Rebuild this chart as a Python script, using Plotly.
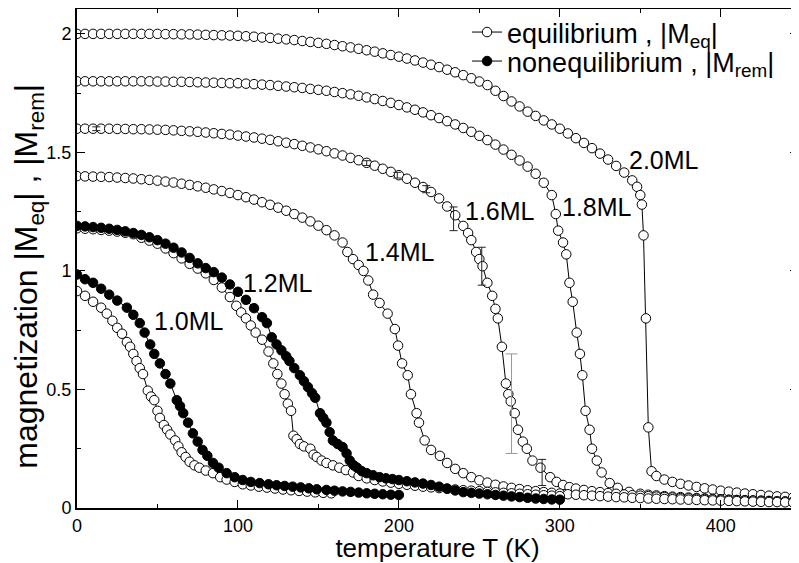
import plotly.graph_objects as go

# ---------------- data ----------------
# equilibrium (open circles)
T_eq_20 = [0,5,10,15,20,25,30,35,40,45,50,55,60,65,70,75,80,85,90,95,
           100,105,110,115,120,125,130,135,140,145,150,155,160,165,170,175,180,185,190,195,
           200,205,210,215,220,225,230,235,240,245,250,255,260,265,270,275,280,285,290,295,
           300,305,310,315,320,325,330,335,340,345,348,350,351,352,353.5,355,357,360,365,370,
           375,380,385,390,395,400,405,410,415,420,425,430,435,440,445]
M_eq_20 = [2.000,2.000,2.000,2.000,2.000,2.000,2.000,2.000,2.000,2.000,2.000,1.999,1.999,1.998,1.998,1.997,1.996,1.995,1.994,1.993,
           1.992,1.990,1.988,1.985,1.983,1.980,1.977,1.974,1.970,1.966,1.962,1.958,1.953,1.948,1.943,1.937,1.931,1.925,1.918,1.911,
           1.904,1.896,1.888,1.879,1.870,1.860,1.849,1.838,1.826,1.813,1.799,1.784,1.760,1.738,1.715,1.694,1.672,1.654,1.635,1.618,
           1.600,1.580,1.560,1.540,1.518,1.495,1.470,1.443,1.415,1.382,1.355,1.320,1.280,1.150,0.800,0.340,0.155,0.135,0.120,0.110,
           0.102,0.095,0.089,0.083,0.078,0.073,0.069,0.065,0.061,0.058,0.055,0.052,0.049,0.047,0.045]

T_eq_18 = [0,5,10,15,20,25,30,35,40,45,50,55,60,65,70,75,80,85,90,95,
           100,105,110,115,120,125,130,135,140,145,150,155,160,165,170,175,180,185,190,195,
           200,205,210,215,220,225,230,235,240,245,250,255,260,265,270,275,280,285,290,295,
           297.5,299,302,304,306,308,310.5,312.5,314,316,318.5,320,323,326,331,336,343,350,355,360,
           365,370,375,380,385,390,395,400,405,410,415,420,425,430,435,440,445]
M_eq_18 = [1.800,1.800,1.800,1.800,1.800,1.800,1.800,1.800,1.800,1.800,1.799,1.799,1.798,1.798,1.797,1.796,1.795,1.794,1.793,1.792,
           1.792,1.790,1.788,1.786,1.784,1.781,1.778,1.775,1.772,1.768,1.764,1.760,1.755,1.750,1.745,1.739,1.732,1.725,1.717,1.709,
           1.700,1.690,1.680,1.669,1.657,1.645,1.632,1.618,1.603,1.587,1.570,1.552,1.533,1.512,1.490,1.466,1.440,1.410,1.372,1.320,
           1.240,1.170,1.120,1.070,0.950,0.870,0.740,0.650,0.560,0.410,0.330,0.250,0.200,0.150,0.105,0.085,0.068,0.060,0.056,0.053,
           0.050,0.048,0.046,0.044,0.042,0.040,0.038,0.037,0.035,0.034,0.033,0.032,0.031,0.030,0.029,0.028,0.027]

T_eq_16 = [0,5,10,15,20,25,30,35,40,45,50,55,60,65,70,75,80,85,90,95,
           100,105,110,115,120,125,130,135,140,145,150,155,160,165,170,175,180,185,190,195,
           200,205,210,215,220,225,230,235,240,243,245,248,250,252,255,258,260,261.5,264,266.5,
           268,269.5,272,274,277,279.5,283,288,294,298,302,306,310,315,320,325,330,335,340,345,
           350,355,360,365,370,375,380,385,390,395,400,405,410,415,420,425,430,435,440,445]
M_eq_16 = [1.600,1.600,1.600,1.600,1.600,1.599,1.599,1.598,1.598,1.597,1.596,1.595,1.593,1.591,1.589,1.587,1.584,1.581,1.578,1.575,
           1.571,1.567,1.563,1.558,1.553,1.547,1.541,1.535,1.528,1.521,1.513,1.505,1.496,1.487,1.477,1.467,1.456,1.444,1.431,1.418,
           1.404,1.389,1.372,1.354,1.333,1.306,1.272,1.235,1.190,1.160,1.130,1.080,1.050,1.020,0.950,0.895,0.840,0.800,0.680,0.525,
           0.480,0.450,0.400,0.330,0.280,0.250,0.200,0.170,0.130,0.110,0.097,0.088,0.082,0.076,0.071,0.067,0.063,0.060,0.057,0.054,
           0.052,0.050,0.048,0.046,0.044,0.042,0.041,0.039,0.038,0.037,0.035,0.034,0.033,0.032,0.031,0.030,0.029,0.028,0.027,0.026]

T_eq_14 = [0,5,10,15,20,25,30,35,40,45,50,55,60,65,70,75,80,85,90,95,
           100,105,110,115,120,125,130,135,140,145,150,155,160,165,168,171.5,175,178,181,184,
           188,193,197.5,199.5,202,205.5,207.5,211,212.5,216,220,225.5,230,235,240,245,250,255,260,265,
           270,275,280,285,290,295,300,305,310,315,320,325,330,335,340,345,350,355,360,365,
           370,375,380,385,390,395,400,405,410,415,420,425,430,435,440,445]
M_eq_14 = [1.400,1.399,1.398,1.397,1.396,1.394,1.392,1.390,1.387,1.384,1.381,1.377,1.373,1.368,1.363,1.357,1.351,1.344,1.337,1.329,
           1.320,1.311,1.301,1.290,1.279,1.267,1.254,1.240,1.225,1.209,1.191,1.172,1.150,1.120,1.080,1.050,1.025,1.000,0.960,0.900,
           0.865,0.820,0.755,0.685,0.610,0.560,0.480,0.400,0.360,0.285,0.245,0.220,0.190,0.165,0.147,0.130,0.117,0.107,0.098,0.091,
           0.085,0.080,0.075,0.071,0.067,0.064,0.061,0.058,0.056,0.054,0.052,0.050,0.048,0.046,0.045,0.043,0.042,0.040,0.039,0.038,
           0.037,0.036,0.035,0.034,0.033,0.032,0.031,0.030,0.029,0.028,0.027,0.026,0.025,0.025,0.024,0.023]

T_eq_12 = [0,5,10,15,20,25,30,35,40,45,50,55,60,65,70,75,80,85,90,95,
           99,102,105,108,111,115,119,122,124.5,127,129,131,133,134.5,136.5,138.5,141,145,147,149,
           152,155,159,163,167,171.5,175,180,185,190,195,200,205,210,215,220,225,230,235,240,
           245,250,255,260,265,270,275,280,285,290,295,300]
M_eq_12 = [1.180,1.178,1.176,1.173,1.170,1.166,1.161,1.155,1.140,1.128,1.115,1.095,1.075,1.053,1.030,1.010,0.990,0.962,0.930,0.890,
           0.853,0.825,0.800,0.770,0.740,0.710,0.660,0.610,0.565,0.525,0.480,0.440,0.410,0.305,0.290,0.270,0.260,0.250,0.225,0.215,
           0.200,0.190,0.180,0.170,0.160,0.150,0.135,0.125,0.118,0.112,0.107,0.102,0.098,0.094,0.090,0.087,0.084,0.081,0.078,0.075,
           0.073,0.071,0.068,0.066,0.064,0.062,0.060,0.058,0.056,0.054,0.052,0.050]

T_eq_10 = [0,5,10,15,18.5,22,25,28,31,33,35,37,39,41,44,46,48,50,51.5,54,
           56,58,61,63,65,67.5,70,73,76,80,84.5,89,93,98,103,108,113,118,123,128,
           133,138,143,148,153,158]
M_eq_10 = [0.915,0.895,0.870,0.845,0.820,0.790,0.760,0.735,0.700,0.680,0.650,0.620,0.590,0.565,0.495,0.470,0.455,0.410,0.380,0.350,
           0.330,0.310,0.285,0.260,0.235,0.215,0.195,0.180,0.170,0.158,0.147,0.130,0.120,0.110,0.100,0.095,0.090,0.086,0.082,0.078,
           0.075,0.072,0.069,0.066,0.064,0.062]

# nonequilibrium (filled circles)
T_rem_12 = [0,5,10,15,20,25,30,35,40,45,50,55,60,65,70,75,80,85,90,95,
            100,105,110,115,118,121,124,127,130,132,135,138.5,141,143.5,146,148,151,153,155,157,
            159,162,165,167.5,169.5,172,174,177,180,184,188,192,196,200,205,210,215,220,225,230,
            235,240,245,250,255,260,265,270,275,280,285,290,295,300]
M_rem_12 = [1.190,1.188,1.185,1.182,1.178,1.173,1.167,1.160,1.152,1.142,1.130,1.115,1.098,1.078,1.055,1.032,1.012,0.995,0.972,0.943,
            0.912,0.878,0.843,0.805,0.780,0.720,0.690,0.665,0.640,0.620,0.590,0.560,0.535,0.510,0.485,0.465,0.400,0.380,0.360,0.320,
            0.285,0.270,0.257,0.230,0.200,0.180,0.170,0.155,0.147,0.138,0.130,0.125,0.122,0.118,0.113,0.108,0.103,0.097,0.090,0.082,
            0.074,0.067,0.064,0.061,0.058,0.055,0.052,0.049,0.046,0.043,0.040,0.038,0.036,0.035]

T_rem_10 = [0,5,10,15,20,25,31,35,39,42,45.5,48,51.5,55,58,62,64,66,69,72,
            75,78,81,84.5,88,93,98,103,108,113.5,119,124,129,134,139,144,149,155,160,165,
            170,175,180,185,190,195,200]
M_rem_10 = [0.985,0.965,0.950,0.925,0.900,0.875,0.845,0.815,0.780,0.740,0.690,0.650,0.610,0.565,0.525,0.455,0.430,0.400,0.360,0.315,
            0.280,0.245,0.220,0.190,0.170,0.147,0.130,0.118,0.110,0.105,0.100,0.096,0.093,0.090,0.087,0.083,0.079,0.076,0.073,0.070,
            0.068,0.065,0.062,0.060,0.058,0.056,0.055]

# error bars on the 1.6ML curve
T_err_dark = [12, 180, 199, 217, 234, 251.5, 289]
M_err_dark = [1.600, 1.455, 1.404, 1.345, 1.220, 1.020, 0.150]
E_err_dark = [0.008, 0.010, 0.012, 0.015, 0.050, 0.080, 0.055]
T_err_gray = [270]
M_err_gray = [0.440]
E_err_gray = [0.210]

labels = ["2.0ML", "1.8ML", "1.6ML", "1.4ML", "1.2ML", "1.0ML"]
label_T = [364.5, 323, 263, 201, 125, 69.5]
label_M = [1.47, 1.27, 1.255, 1.08, 0.95, 0.79]

FONT = "Liberation Sans, Arial, Helvetica, sans-serif"

fig = go.Figure()

eq_series = [(T_eq_20, M_eq_20), (T_eq_18, M_eq_18), (T_eq_16, M_eq_16),
             (T_eq_14, M_eq_14), (T_eq_12, M_eq_12), (T_eq_10, M_eq_10)]
for i, (t, m) in enumerate(eq_series):
    fig.add_trace(go.Scatter(
        x=t, y=m, mode="lines+markers",
        line=dict(color="black", width=1),
        marker=dict(symbol="circle", size=9.5, color="white",
                    line=dict(color="black", width=1)),
        name="equilibrium , |M<sub>eq</sub>|",
        legend="legend", legendgroup="eq", showlegend=(i == 0)))

fig.add_trace(go.Scatter(
    x=T_err_dark, y=M_err_dark, mode="markers",
    marker=dict(size=1, color="rgba(0,0,0,0)"),
    error_y=dict(type="data", array=E_err_dark, color="#222222", thickness=1, width=4),
    showlegend=False, hoverinfo="skip"))
fig.add_trace(go.Scatter(
    x=T_err_gray, y=M_err_gray, mode="markers",
    marker=dict(size=1, color="rgba(0,0,0,0)"),
    error_y=dict(type="data", array=E_err_gray, color="#999999", thickness=1, width=6),
    showlegend=False, hoverinfo="skip"))

rem_series = [(T_rem_12, M_rem_12), (T_rem_10, M_rem_10)]
for i, (t, m) in enumerate(rem_series):
    fig.add_trace(go.Scatter(
        x=t, y=m, mode="lines+markers",
        line=dict(color="black", width=1),
        marker=dict(symbol="circle", size=9.5, color="black",
                    line=dict(color="black", width=1)),
        name="nonequilibrium , |M<sub>rem</sub>|",
        legend="legend2", legendgroup="rem", showlegend=(i == 0)))

for txt, tx, my in zip(labels, label_T, label_M):
    fig.add_annotation(x=tx, y=my, text=txt, showarrow=False,
                       font=dict(size=25, color="black", family=FONT))

axis_common = dict(
    showline=True, linecolor="black", linewidth=2, mirror="ticks",
    ticks="inside", ticklen=8, tickwidth=1, tickcolor="black",
    showgrid=False, zeroline=False, automargin=False,
    tickfont=dict(size=18, color="black", family=FONT),
)

fig.update_xaxes(range=[0, 448], tickvals=[0, 100, 200, 300, 400],
                 minor=dict(dtick=50, ticks="inside", ticklen=4, tickcolor="black", showgrid=False),
                 title=dict(text="temperature T (K)", font=dict(size=26, color="black", family=FONT), standoff=6),
                 **axis_common)
fig.update_yaxes(range=[0, 2.105], tickvals=[0, 0.5, 1, 1.5, 2], ticktext=["0", "0.5", "1", "1.5", "2"],
                 minor=dict(dtick=0.25, ticks="inside", ticklen=4, tickcolor="black", showgrid=False),
                 title=dict(text="magnetization |M<sub>eq</sub>| , |M<sub>rem</sub>|&nbsp;&nbsp;&nbsp;&nbsp;",
                            font=dict(size=32, color="black", family=FONT), standoff=2),
                 **axis_common)

legend_common = dict(xanchor="left", yanchor="middle", bgcolor="rgba(0,0,0,0)",
                     font=dict(size=27, color="black", family=FONT),
                     itemwidth=30, borderwidth=0)
fig.update_layout(
    width=791, height=555,
    margin=dict(l=69, r=1, t=0, b=55),
    paper_bgcolor="white", plot_bgcolor="white",
    legend=dict(x=0.541, y=0.953, **legend_common),
    legend2=dict(x=0.541, y=0.893, **legend_common),
)

fig.write_html("out.html")
